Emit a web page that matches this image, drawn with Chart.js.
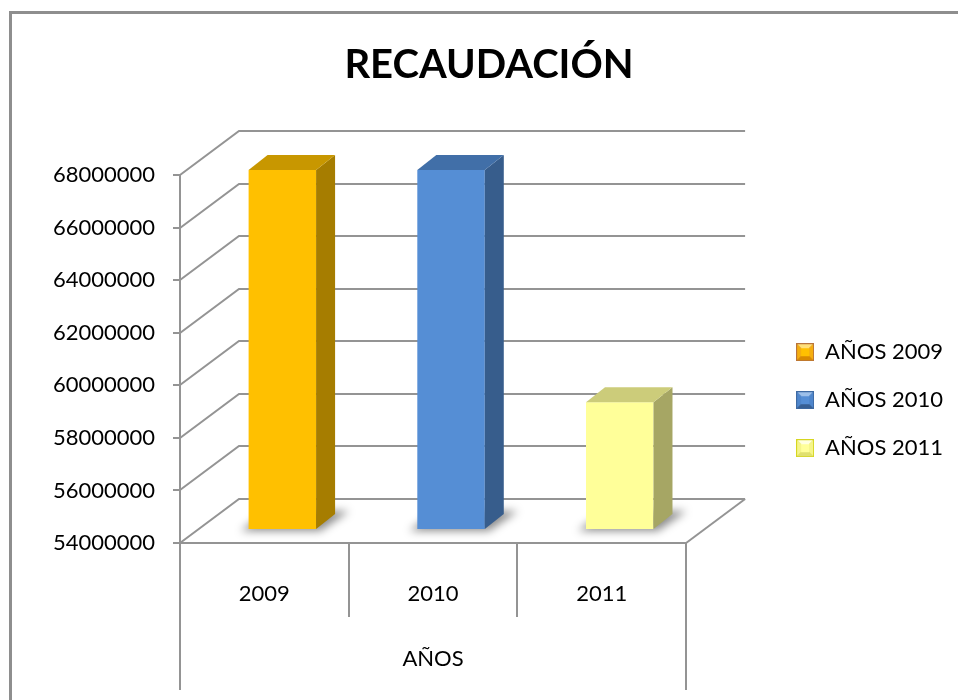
<!DOCTYPE html>
<html>
<head>
<meta charset="utf-8">
<script src="https://cdn.jsdelivr.net/npm/chart.js@4.4.1/dist/chart.umd.min.js"></script>
<style>
html,body{margin:0;padding:0;background:#fff;}
canvas{display:block;}
</style>
</head>
<body>
<canvas id="c" width="958" height="700"></canvas>
<script>
// ---- data ----
const chartTitle = 'RECAUDACIÓN';
const axisTitle = 'AÑOS';
const categories = ['2009', '2010', '2011'];
const seriesLabels = ['AÑOS 2009', 'AÑOS 2010', 'AÑOS 2011'];
const recaudacion = [67700000, 67700000, 58860000];
const yTicks = [54000000, 56000000, 58000000, 60000000, 62000000, 64000000, 66000000, 68000000];
const yMin = 54000000;
const yMax = 68000000;

// ---- styles ----
const frontColors = ['#FFC000', '#558ED5', '#FFFF99'];
const sideColors  = ['#A67D00', '#375D8C', '#A6A664'];
const topColors   = ['#C89700', '#416FA8', '#CCCC7A'];
const iconColors = [
  {border:'#B8743C', light:'#FFE07A', mid:'#F5AE10', dark:'#D98A00', base:'#FFC000'},
  {border:'#3E6AA3', light:'#9DC0EA', mid:'#4F86CC', dark:'#375F93', base:'#558ED5'},
  {border:'#D6D620', light:'#FFFFE0', mid:'#F5F58A', dark:'#E0E070', base:'#FFFF99'}
];
const GRID = '#949494';
const DEPTH = {dx: 59, dy: -44};
const BAR_OFF = {dx: 18, dy: -13};
const BAR_DEPTH = {dx: 19, dy: -15};

Chart.defaults.font.family = 'Lato';
Chart.defaults.color = '#000';

function makeIcon(c) {
  const cv = document.createElement('canvas');
  cv.width = 18; cv.height = 18;
  const g = cv.getContext('2d');
  g.fillStyle = c.border; g.fillRect(0, 0, 18, 18);
  const a = 1, b = 17, i1 = 5, i2 = 13;
  const poly = (pts, col) => { g.beginPath(); g.moveTo(pts[0][0], pts[0][1]); for (const p of pts.slice(1)) g.lineTo(p[0], p[1]); g.closePath(); g.fillStyle = col; g.fill(); };
  poly([[a,a],[b,a],[i2,i1],[i1,i1]], c.light);
  poly([[a,a],[i1,i1],[i1,i2],[a,b]], c.mid);
  poly([[b,a],[b,b],[i2,i2],[i2,i1]], c.mid);
  poly([[a,b],[i1,i2],[i2,i2],[b,b]], c.dark);
  g.fillStyle = c.base; g.fillRect(i1, i1, i2 - i1, i2 - i1);
  return cv;
}
const legendIcons = iconColors.map(makeIcon);

const datasets = seriesLabels.map((lab, i) => ({
  label: lab,
  data: categories.map((c, j) => (j === i ? recaudacion[i] : null)),
  backgroundColor: frontColors[i],
  borderWidth: 0,
  base: yMin,
  barPercentage: 0.4,
  categoryPercentage: 1.0,
  skipNull: true,
  clip: false
}));

const scene3d = {
  id: 'scene3d',
  beforeDraw(chart) {
    const ctx = chart.ctx;
    ctx.save();
    ctx.fillStyle = '#fff';
    ctx.fillRect(0, 0, chart.width, chart.height);
    ctx.fillStyle = '#8e8e8e';
    ctx.fillRect(9, 11, chart.width - 9, 3);
    ctx.fillRect(9, 11, 3, chart.height - 11);
    ctx.restore();
  },
  beforeDatasetsDraw(chart) {
    const ctx = chart.ctx;
    const xs = chart.scales.x, ys = chart.scales.y;
    const L = chart.chartArea.left, R = chart.chartArea.right, B = chart.chartArea.bottom;
    ctx.save();
    ctx.strokeStyle = GRID;
    ctx.lineWidth = 2;
    yTicks.forEach(v => {
      const y = Math.round(ys.getPixelForValue(v));
      ctx.beginPath();
      ctx.moveTo(L, y);
      ctx.lineTo(L + DEPTH.dx, y + DEPTH.dy);
      ctx.lineTo(R + DEPTH.dx, y + DEPTH.dy);
      ctx.stroke();
    });
    ctx.beginPath();
    ctx.moveTo(R, B);
    ctx.lineTo(R + DEPTH.dx, B + DEPTH.dy);
    ctx.stroke();
    const n = categories.length;
    const step = (xs.right - xs.left) / n;
    for (let k = 0; k <= n; k++) {
      const x = Math.round(xs.left + k * step);
      ctx.beginPath();
      ctx.moveTo(x, B);
      ctx.lineTo(x, (k === 0 || k === n) ? 690 : 617);
      ctx.stroke();
    }
    ctx.restore();

    ctx.save();
    ctx.translate(BAR_OFF.dx, BAR_OFF.dy);
    ctx.filter = 'blur(4px)';
    ctx.fillStyle = 'rgba(0,0,0,0.45)';
    chart.data.datasets.forEach((ds, d) => {
      chart.getDatasetMeta(d).data.forEach((bar, i) => {
        if (ds.data[i] == null) return;
        const p = bar.getProps(['x', 'y', 'base', 'width'], true);
        const xl = p.x - p.width / 2, xr = p.x + p.width / 2;
        ctx.beginPath();
        ctx.moveTo(xl - 8, p.base + 2);
        ctx.lineTo(xr + 4, p.base + 2);
        ctx.lineTo(xr + BAR_DEPTH.dx + 14, p.base + BAR_DEPTH.dy - 3);
        ctx.lineTo(xl + BAR_DEPTH.dx, p.base + BAR_DEPTH.dy - 3);
        ctx.closePath();
        ctx.fill();
      });
    });
    ctx.restore();

    ctx.save();
    ctx.translate(BAR_OFF.dx, BAR_OFF.dy);
  },
  afterDatasetsDraw(chart) {
    const ctx = chart.ctx;
    chart.data.datasets.forEach((ds, d) => {
      chart.getDatasetMeta(d).data.forEach((bar, i) => {
        if (ds.data[i] == null) return;
        const p = bar.getProps(['x', 'y', 'base', 'width'], true);
        const xl = p.x - p.width / 2, xr = p.x + p.width / 2;
        const top = p.y, base = p.base;
        ctx.beginPath();
        ctx.moveTo(xr, top);
        ctx.lineTo(xr + BAR_DEPTH.dx, top + BAR_DEPTH.dy);
        ctx.lineTo(xr + BAR_DEPTH.dx, base + BAR_DEPTH.dy);
        ctx.lineTo(xr, base);
        ctx.closePath();
        ctx.fillStyle = sideColors[d];
        ctx.fill();
        ctx.beginPath();
        ctx.moveTo(xl, top);
        ctx.lineTo(xl + BAR_DEPTH.dx, top + BAR_DEPTH.dy);
        ctx.lineTo(xr + BAR_DEPTH.dx, top + BAR_DEPTH.dy);
        ctx.lineTo(xr, top);
        ctx.closePath();
        ctx.fillStyle = topColors[d];
        ctx.fill();
      });
    });
    ctx.restore();
  }
};

new Chart(document.getElementById('c'), {
  type: 'bar',
  data: { labels: categories, datasets: datasets },
  options: {
    responsive: false,
    animation: false,
    events: [],
    devicePixelRatio: 1,
    layout: { padding: { left: 25, right: 5, top: 0, bottom: 0 } },
    scales: {
      x: {
        offset: true,
        grid: { display: false },
        border: { display: true, color: GRID, width: 2 },
        ticks: { font: { size: 22 }, color: '#000', padding: 30 },
        title: { display: true, text: axisTitle, font: { size: 22 }, color: '#000', padding: { top: 0, bottom: 28 } },
        afterFit(s) { s.height = 157; }
      },
      y: {
        min: yMin,
        max: yMax,
        afterBuildTicks(s) { s.ticks = yTicks.map(v => ({ value: v })); },
        ticks: { font: { size: 22 }, color: '#000', padding: 18, callback: v => String(v) },
        grid: { display: true, drawOnChartArea: false, drawTicks: true, tickLength: 7, color: GRID, lineWidth: 2 },
        border: { display: true, color: GRID, width: 2 },
        afterFit(s) { s.width = 155; }
      },
      gap: {
        position: 'right',
        display: true,
        grid: { display: false },
        border: { display: false },
        ticks: { display: false },
        afterFit(s) { s.width = 84; }
      }
    },
    plugins: {
      title: {
        display: true,
        text: chartTitle,
        font: { size: 40, weight: 'bold' },
        color: '#000',
        padding: { top: 41, bottom: 86 }
      },
      legend: {
        position: 'right',
        align: 'center',
        maxWidth: 240,
        title: { display: true, text: '', padding: { top: 43, bottom: 43 } },
        labels: {
          usePointStyle: true,
          boxWidth: 18,
          boxHeight: 18,
          padding: 26,
          font: { size: 22 },
          color: '#000',
          generateLabels: chart => chart.data.datasets.map((ds, i) => ({
            text: ds.label,
            pointStyle: legendIcons[i],
            fillStyle: ds.backgroundColor,
            strokeStyle: ds.backgroundColor,
            lineWidth: 0,
            hidden: false,
            datasetIndex: i,
            rotation: 0
          }))
        }
      },
      tooltip: { enabled: false }
    }
  },
  plugins: [scene3d]
});
</script>
</body>
</html>
